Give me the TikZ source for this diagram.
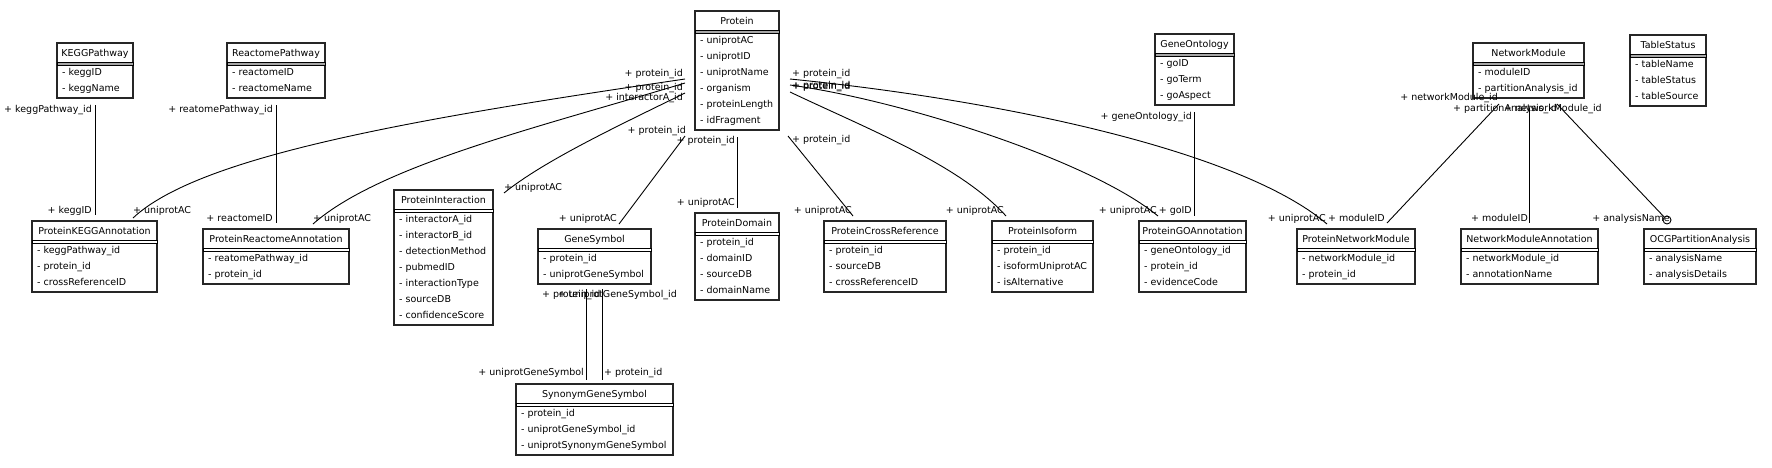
\documentclass[tikz,border=0pt]{standalone}
\usepackage{fontspec}
\setmainfont{DejaVu Sans}
\usetikzlibrary{calc}
\tikzset{
  classbox/.style={draw=black!85, line width=1.1pt, fill=white, inner sep=0pt, outer sep=0pt},
  txt/.style={font=\fontsize{9.5}{11}\selectfont, inner sep=0pt, text=black},
  lbl/.style={txt},
  edge/.style={draw=black, line width=0.9pt},
  band/.style={draw=black, line width=0.7pt},
  endcircle/.style={draw=black, circle, minimum size=8pt, inner sep=0pt, line width=0.9pt, fill=white},
}
\newcommand{\umlclass}[8]{%
  \pgfmathsetmacro{\umlh}{23+16*#5}%
  \node[classbox, minimum width=#4pt, minimum height=\umlh pt, anchor=north west] (#1) at (#2,#3) {};
  \node[txt, anchor=base] (#1-title) at ($(#1.north)+(0,13.5)$) {#7};
  \draw[band, fill=#6] ($(#1.north west)+(0,19)$) rectangle ($(#1.north east)+(0,22)$);
  \foreach \a [count=\i from 0] in {#8} {\node[txt, anchor=base west] (#1-attr\i) at ($(#1.north west)+(5,32.5+16*\i)$) {- \a};}
}
\begin{document}
\begin{tikzpicture}[x=1pt,y=-1pt]
\useasboundingbox (0,0) rectangle (1772,467);
% classes
\umlclass{kegg}{57}{43}{76}{2}{gray!70}{KEGGPathway}{keggID,keggName}
\umlclass{reactome}{227}{43}{98}{2}{gray!70}{ReactomePathway}{reactomeID,reactomeName}
\umlclass{protein}{695}{11}{84}{6}{gray!70}{Protein}{uniprotAC,uniprotID,uniprotName,organism,proteinLength,idFragment}
\umlclass{geneont}{1155}{34}{79}{3}{gray!70}{GeneOntology}{goID,goTerm,goAspect}
\umlclass{netmod}{1473}{43}{111}{2}{gray!70}{NetworkModule}{moduleID,partitionAnalysis\_id}
\umlclass{tstatus}{1630}{35}{76}{3}{gray!70}{TableStatus}{tableName,tableStatus,tableSource}
\umlclass{pkegg}{32}{221}{125}{3}{white}{ProteinKEGGAnnotation}{keggPathway\_id,protein\_id,crossReferenceID}
\umlclass{preact}{203}{229}{146}{2}{white}{ProteinReactomeAnnotation}{reatomePathway\_id,protein\_id}
\umlclass{pinter}{394}{190}{99}{7}{white}{ProteinInteraction}{interactorA\_id,interactorB\_id,detectionMethod,pubmedID,interactionType,sourceDB,confidenceScore}
\umlclass{genesym}{538}{229}{113}{2}{white}{GeneSymbol}{protein\_id,uniprotGeneSymbol}
\umlclass{pdomain}{695}{213}{84}{4}{white}{ProteinDomain}{protein\_id,domainID,sourceDB,domainName}
\umlclass{synonym}{516}{384}{157}{3}{white}{SynonymGeneSymbol}{protein\_id,uniprotGeneSymbol\_id,uniprotSynonymGeneSymbol}
\umlclass{pxref}{824}{221}{122}{3}{white}{ProteinCrossReference}{protein\_id,sourceDB,crossReferenceID}
\umlclass{piso}{992}{221}{101}{3}{white}{ProteinIsoform}{protein\_id,isoformUniprotAC,isAlternative}
\umlclass{pgo}{1139}{221}{107}{3}{white}{ProteinGOAnnotation}{geneOntology\_id,protein\_id,evidenceCode}
\umlclass{pnm}{1297}{229}{118}{2}{white}{ProteinNetworkModule}{networkModule\_id,protein\_id}
\umlclass{nma}{1461}{229}{137}{2}{white}{NetworkModuleAnnotation}{networkModule\_id,annotationName}
\umlclass{ocg}{1644}{229}{112}{2}{white}{OCGPartitionAnalysis}{analysisName,analysisDetails}

% connector end points
\coordinate (e1a) at (95,105);   \coordinate (e1b) at (95,215);
\coordinate (e2a) at (276,105);  \coordinate (e2b) at (276,223);
\coordinate (e3a) at (685,79);   \coordinate (e3b) at (133,218);
\coordinate (e4a) at (685,83);   \coordinate (e4b) at (313,224);
\coordinate (e5a) at (685,93);   \coordinate (e5b) at (504,193);
\coordinate (e6a) at (685,136);  \coordinate (e6b) at (619,224);
\coordinate (e7a) at (737,137);  \coordinate (e7b) at (737,208);
\coordinate (e8a) at (586,289);  \coordinate (e8b) at (586,380);
\coordinate (e8c) at (602,289);  \coordinate (e8d) at (602,380);
\coordinate (e9a) at (788,136);  \coordinate (e9b) at (853,216);
\coordinate (e10a) at (790,92);  \coordinate (e10b) at (1006,216);
\coordinate (e11a) at (790,85);  \coordinate (e11b) at (1158,216);
\coordinate (e12a) at (790,79);  \coordinate (e12b) at (1327,224);
\coordinate (e13a) at (1194,112); \coordinate (e13b) at (1194,216);
\coordinate (e14a) at (1499,104); \coordinate (e14b) at (1387,223);
\coordinate (e15a) at (1529,108); \coordinate (e15b) at (1529,223);
\coordinate (e16a) at (1557,104);
\node[endcircle] (e16c) at (1667,220) {};

% connectors
\draw[edge] (e1a) -- (e1b);
\draw[edge] (e2a) -- (e2b);
\draw[edge] (e3a) .. controls (420,118) and (200,155) .. (e3b);
\draw[edge] (e4a) .. controls (540,127) and (380,165) .. (e4b);
\draw[edge] (e5a) .. controls (620,125) and (545,160) .. (e5b);
\draw[edge] (e6a) -- (e6b);
\draw[edge] (e7a) -- (e7b);
\draw[edge] (e8a) -- (e8b);
\draw[edge] (e8c) -- (e8d);
\draw[edge] (e9a) -- (e9b);
\draw[edge] (e10a) .. controls (870,130) and (960,165) .. (e10b);
\draw[edge] (e11a) .. controls (900,100) and (1090,160) .. (e11b);
\draw[edge] (e12a) .. controls (1000,100) and (1240,150) .. (e12b);
\draw[edge] (e13a) -- (e13b);
\draw[edge] (e14a) -- (e14b);
\draw[edge] (e15a) -- (e15b);
\draw[edge] (e16a) -- (e16c);

% role labels
\node[lbl, anchor=base east] (l1a) at (92,112.5) {+ keggPathway\_id};
\node[lbl, anchor=base east] (l1b) at (92,213.5) {+ keggID};
\node[lbl, anchor=base east] (l2a) at (273,112.5) {+ reatomePathway\_id};
\node[lbl, anchor=base east] (l2b) at (273,221.5) {+ reactomeID};
\node[lbl, anchor=base east] (l3a) at (683,76.5) {+ protein\_id};
\node[lbl, anchor=base west] (l3b) at (133,213.5) {+ uniprotAC};
\node[lbl, anchor=base east] (l4a) at (683,90.5) {+ protein\_id};
\node[lbl, anchor=base west] (l4b) at (313,221.5) {+ uniprotAC};
\node[lbl, anchor=base east] (l5a) at (683,100.5) {+ interactorA\_id};
\node[lbl, anchor=base west] (l5b) at (504,190.5) {+ uniprotAC};
\node[lbl, anchor=base east] (l6a) at (686,133.5) {+ protein\_id};
\node[lbl, anchor=base east] (l6b) at (617,221.5) {+ uniprotAC};
\node[lbl, anchor=base east] (l7a) at (735,143.5) {+ protein\_id};
\node[lbl, anchor=base east] (l7b) at (735,205.5) {+ uniprotAC};
\node[lbl, anchor=base west] (l8a) at (542,297.5) {+ protein\_id};
\node[lbl, anchor=base east] (l8b) at (584,375.5) {+ uniprotGeneSymbol};
\node[lbl, anchor=base east] (l8c) at (677,297.5) {+ uniprotGeneSymbol\_id};
\node[lbl, anchor=base west] (l8d) at (604,375.5) {+ protein\_id};
\node[lbl, anchor=base west] (l9a) at (792,142.5) {+ protein\_id};
\node[lbl, anchor=base east] (l9b) at (852,213.5) {+ uniprotAC};
\node[lbl, anchor=base west] (l10a) at (792,88.5) {+ protein\_id};
\node[lbl, anchor=base east] (l10b) at (1004,213.5) {+ uniprotAC};
\node[lbl, anchor=base west] (l11a) at (792,89.5) {+ protein\_id};
\node[lbl, anchor=base east] (l11b) at (1157,213.5) {+ uniprotAC};
\node[lbl, anchor=base west] (l12a) at (792,76.5) {+ protein\_id};
\node[lbl, anchor=base east] (l12b) at (1326,221.5) {+ uniprotAC};
\node[lbl, anchor=base east] (l13a) at (1192,119.5) {+ geneOntology\_id};
\node[lbl, anchor=base east] (l13b) at (1192,213.5) {+ goID};
\node[lbl, anchor=base east] (l14a) at (1498,100.5) {+ networkModule\_id};
\node[lbl, anchor=base east] (l14b) at (1385,221.5) {+ moduleID};
\node[lbl, anchor=base west] (l15a) at (1504,111.5) {+ networkModule\_id};
\node[lbl, anchor=base east] (l15b) at (1528,221.5) {+ moduleID};
\node[lbl, anchor=base west] (l16a) at (1453,111.5) {+ partitionAnalysis\_id};
\node[lbl, anchor=base east] (l16b) at (1670,221.5) {+ analysisName};
\end{tikzpicture}
\end{document}
